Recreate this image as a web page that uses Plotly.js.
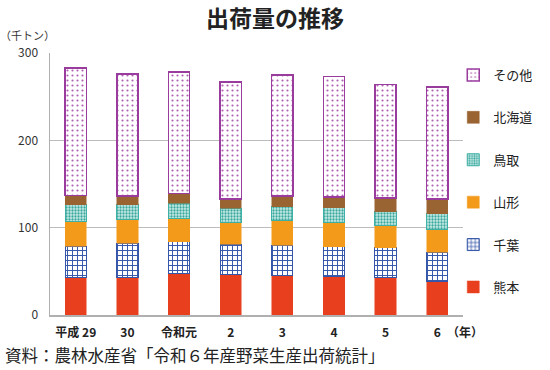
<!DOCTYPE html>
<html>
<head>
<meta charset="utf-8">
<script src="https://cdn.plot.ly/plotly-3.0.1.min.js"></script>
<style>html,body{margin:0;padding:0;background:#fff;}#chart{width:550px;height:370px;}</style>
</head>
<body>
<div id="chart"></div>
<script>
const years = ["平成 29", "30", "令和元", "2", "3", "4", "5", "6"];
const kumamoto = [43, 43, 48, 46, 45, 44, 43, 38];
const chiba    = [36, 39, 36, 35, 35, 34, 34, 34];
const yamagata = [28, 27, 27, 25, 28, 28, 25, 26];
const tottori  = [19, 17, 17, 16, 16, 17, 16, 18];
const hokkaido = [11, 10, 11, 11, 12, 12, 16, 17];
const others   = [146, 140, 139, 134, 139, 138, 130, 128];
const seriesNames = ["熊本", "千葉", "山形", "鳥取", "北海道", "その他"];
const tickVals = [0, 100, 200, 300];

const jp = '"Noto Sans CJK JP", "Noto Sans", sans-serif';

const styles = [
  {marker: {color: "#e8401e", line: {color: "#e8401e", width: 0.5}}},
  {marker: {color: "#ffffff", line: {color: "#3455a8", width: 1},
    pattern: {shape: "+", fgcolor: "#3455a8", bgcolor: "#ffffff", size: 5, solidity: 0.35}}},
  {marker: {color: "#f39a1b", line: {color: "#f39a1b", width: 0.5}}},
  {marker: {color: "#bfe6e2", line: {color: "#3fb0a6", width: 1},
    pattern: {shape: ".", fgcolor: "#3aa79d", bgcolor: "#c9ece8", size: 3, solidity: 0.45}}},
  {marker: {color: "#9a6432", line: {color: "#9a6432", width: 0.5}}},
  {marker: {color: "#ffffff", line: {color: "#9a3c9e", width: 1.5},
    pattern: {shape: ".", fgcolor: "#b060b2", bgcolor: "#ffffff", size: 5, solidity: 0.15}}}
];
const values = [kumamoto, chiba, yamagata, tottori, hokkaido, others];

const traces = values.map((v, i) => ({
  type: "bar",
  name: seriesNames[i],
  x: years,
  y: v,
  legendgroup: "g" + i,
  legendrank: 10 - i,
  marker: styles[i].marker,
  hoverinfo: "skip"
}));

const L = 50, R = 474, T = 53, B = 315;
const px = x => (x - L) / (R - L);
const py = y => (B - y) / (B - T);

const layout = {
  width: 550, height: 370,
  margin: {l: L, r: 550 - R, t: T, b: 370 - B},
  paper_bgcolor: "#fff", plot_bgcolor: "#fff",
  barmode: "stack",
  bargap: 0.59,
  font: {family: jp, color: "#222"},
  title: {text: "出荷量の推移", font: {family: jp, size: 23, weight: "bold", color: "#222"},
    xref: "container", yref: "container", x: 0.5, xanchor: "center", y: 1 - 19/370, yanchor: "middle"},
  xaxis: {
    type: "category", showgrid: false, showline: true, linecolor: "#b0b0b0", linewidth: 1.5,
    ticks: "", tickfont: {family: jp, size: 12, weight: "bold", color: "#222"}, ticklabelstandoff: 6,
    fixedrange: true
  },
  yaxis: {
    range: [0, 300], tickvals: tickVals, showgrid: true, gridcolor: "#bdbdbd", gridwidth: 1.2,
    showline: true, linecolor: "#b0b0b0", linewidth: 1.5, zeroline: false, ticks: "",
    tickfont: {family: jp, size: 12, color: "#333"}, ticklabelstandoff: 8, fixedrange: true
  },
  showlegend: true,
  legend: {
    traceorder: "grouped", tracegroupgap: 22.5,
    x: px(464), xanchor: "left", y: py(60), yanchor: "top",
    font: {family: jp, size: 13, color: "#222"}, itemwidth: 30, bgcolor: "rgba(0,0,0,0)"
  },
  annotations: [
    {text: "（千トン）", xref: "paper", yref: "paper", x: px(27), y: py(35), xanchor: "center", yanchor: "middle",
      showarrow: false, font: {family: jp, size: 11, color: "#333"}},
    {text: "（年）", xref: "paper", yref: "paper", x: px(476), y: py(331), xanchor: "center", yanchor: "middle",
      showarrow: false, font: {family: jp, size: 12, weight: "bold", color: "#222"}},
    {text: "資料：農林水産省「令和６年産野菜生産出荷統計」", xref: "paper", yref: "paper", x: px(2), y: py(355),
      xanchor: "left", yanchor: "middle", showarrow: false, font: {family: jp, size: 16.5, color: "#222"}}
  ]
};

Plotly.newPlot("chart", traces, layout, {displayModeBar: false, staticPlot: true});
</script>
</body>
</html>
